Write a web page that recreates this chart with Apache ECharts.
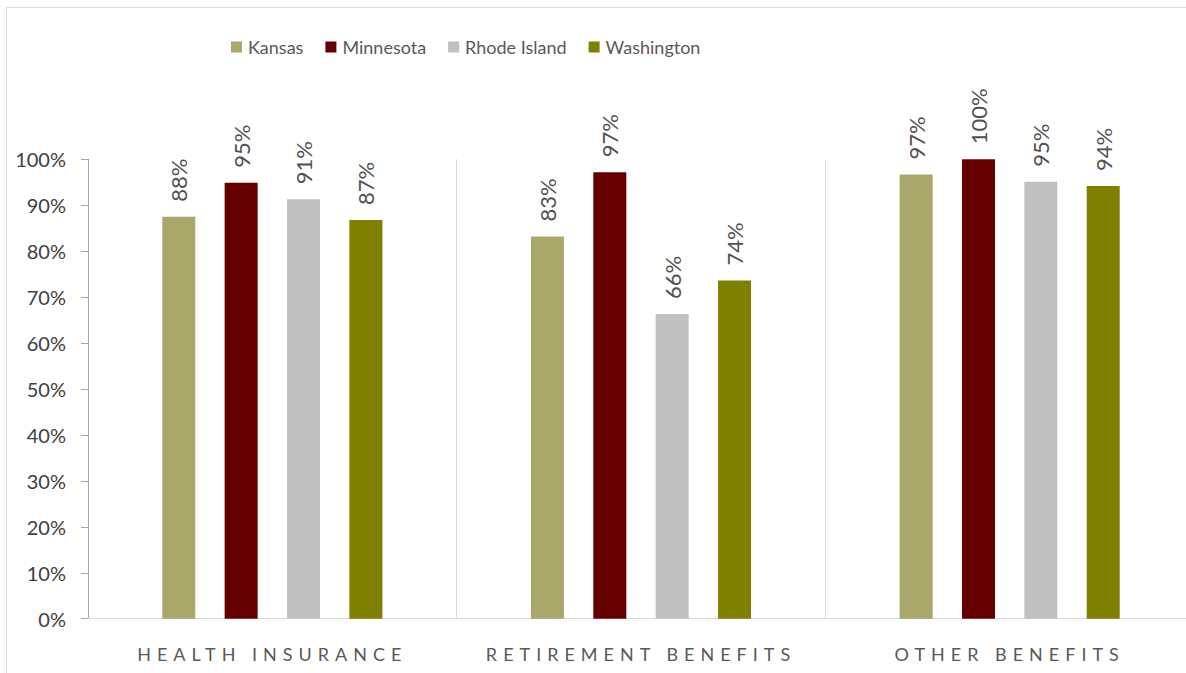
<!DOCTYPE html>
<html>
<head>
<meta charset="utf-8">
<script src="https://cdn.jsdelivr.net/npm/echarts@6/dist/echarts.min.js"></script>
<style>
  html, body { margin: 0; padding: 0; background: #ffffff; }
  #chart { width: 1186px; height: 673px; }
</style>
</head>
<body>
<div id="chart"></div>
<script>
// Share of employers offering each benefit, by state
const categories = ['HEALTH INSURANCE', 'RETIREMENT BENEFITS', 'OTHER BENEFITS'];
const states = ['Kansas', 'Minnesota', 'Rhode Island', 'Washington'];
const kansas = [87.5, 83.2, 96.7];
const minnesota = [94.9, 97.2, 100];
const rhodeIsland = [91.3, 66.3, 95.1];
const washington = [86.8, 73.6, 94.2];
const stateColors = ['#A9A76A', '#660000', '#C0C0C0', '#7F7F00'];

const seriesValues = [kansas, minnesota, rhodeIsland, washington];

const chart = echarts.init(document.getElementById('chart'), null, { renderer: 'svg' });

const series = states.map((name, i) => ({
  name: name,
  type: 'bar',
  data: seriesValues[i],
  barWidth: 33,
  barGap: '89%',
  itemStyle: { color: stateColors[i] },
  label: {
    show: true,
    position: 'top',
    distance: 15,
    rotate: 90,
    align: 'left',
    verticalAlign: 'middle',
    fontFamily: 'Lato',
    fontSize: 22,
    color: '#505050',
    formatter: p => Math.round(p.value) + '%'
  }
}));

chart.setOption({
  animation: false,
  graphic: [{
    type: 'rect',
    shape: { x: 6.5, y: 7.5, width: 1300, height: 1000 },
    style: { fill: 'none', stroke: '#d9d9d9', lineWidth: 1 },
    silent: true
  }],
  legend: {
    data: states,
    left: 226,
    top: 33,
    itemWidth: 11,
    itemHeight: 11,
    itemGap: 22,
    icon: 'rect',
    textStyle: {
      fontFamily: 'Lato',
      fontSize: 18,
      color: '#595959',
      padding: [0, 0, 0, 1]
    }
  },
  grid: {
    left: 88,
    top: 159.3,
    width: 1106,
    height: 459.4,
    containLabel: false,
    outerBoundsMode: 'none'
  },
  xAxis: {
    type: 'category',
    data: categories,
    axisLine: { show: true, lineStyle: { color: '#d9d9d9', width: 1 } },
    axisTick: { show: false },
    splitLine: { show: true, interval: 0, lineStyle: { color: '#d9d9d9', width: 1 } },
    axisLabel: {
      interval: 0,
      margin: 26,
      fontFamily: 'Lato',
      fontSize: 18,
      color: '#595959'
    }
  },
  yAxis: {
    type: 'value',
    min: 0,
    max: 100,
    interval: 10,
    axisLine: { show: true, lineStyle: { color: '#a6a6a6', width: 1 } },
    axisTick: { show: true, length: 7, lineStyle: { color: '#a6a6a6' } },
    splitLine: { show: false },
    axisLabel: {
      margin: 22,
      fontFamily: 'Lato',
      fontSize: 20,
      color: '#404040',
      formatter: '{value}%'
    }
  },
  series: series
});

// Spread out the letters of the category captions
function spaceCategoryLabels() {
  document.querySelectorAll('#chart svg text').forEach(t => {
    if (categories.indexOf(t.textContent) >= 0) {
      t.style.letterSpacing = '6px';
    }
  });
}
spaceCategoryLabels();
chart.on('finished', spaceCategoryLabels);
</script>
</body>
</html>
